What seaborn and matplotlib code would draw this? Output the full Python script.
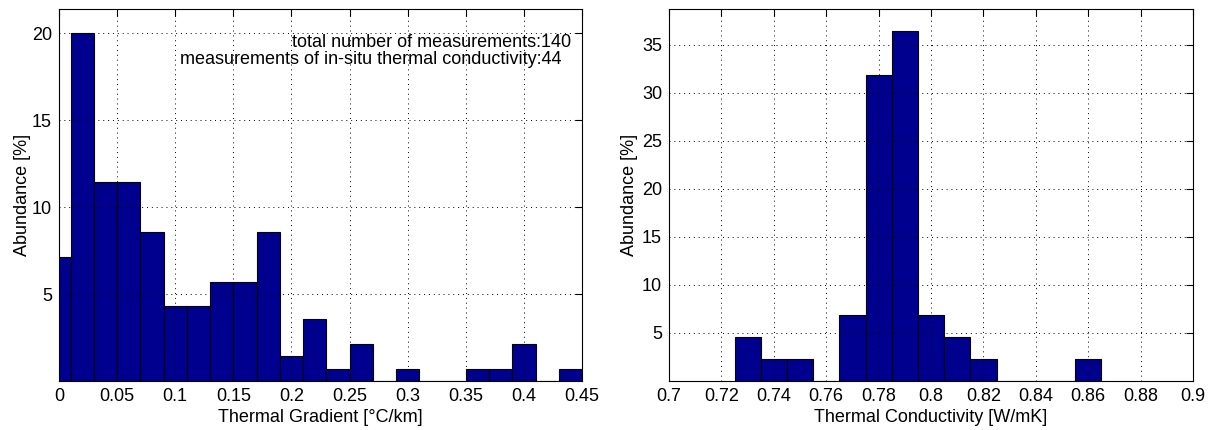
import numpy as np
import pandas as pd
import matplotlib
matplotlib.use("Agg")
import matplotlib.pyplot as plt
import seaborn as sns

# thermal gradient histogram (bin centres, % of 140 measurements)
grad_centers = [0.00, 0.02, 0.04, 0.06, 0.08, 0.10, 0.12, 0.14, 0.16, 0.18, 0.20, 0.22,
                0.24, 0.26, 0.28, 0.30, 0.32, 0.34, 0.36, 0.38, 0.40, 0.42, 0.44]
grad_pct = [7.14, 20.0, 11.43, 11.43, 8.57, 4.29, 4.29, 5.71, 5.71, 8.57, 1.43, 3.57,
            0.71, 2.14, 0.0, 0.71, 0.0, 0.0, 0.71, 0.71, 2.14, 0.0, 0.71]
grad_width = 0.02

# thermal conductivity histogram (bin centres, % of 44 measurements)
cond_centers = [0.73, 0.74, 0.75, 0.76, 0.77, 0.78, 0.79, 0.80, 0.81, 0.82, 0.83, 0.84, 0.85, 0.86]
cond_pct = [4.55, 2.27, 2.27, 0.0, 6.82, 31.82, 36.36, 6.82, 4.55, 2.27, 0.0, 0.0, 0.0, 2.27]
cond_width = 0.01

grad_xticks = [0, 0.05, 0.1, 0.15, 0.2, 0.25, 0.3, 0.35, 0.4, 0.45]
grad_yticks = [5, 10, 15, 20]
cond_xticks = [0.7, 0.72, 0.74, 0.76, 0.78, 0.8, 0.82, 0.84, 0.86, 0.88, 0.9]
cond_yticks = [5, 10, 15, 20, 25, 30, 35]

sns.set_style("white")
plt.rcParams["font.family"] = ["Liberation Sans", "DejaVu Sans"]
plt.rcParams["font.size"] = 13
plt.rcParams["text.color"] = "black"
plt.rcParams["axes.labelcolor"] = "black"
plt.rcParams["xtick.color"] = "black"
plt.rcParams["ytick.color"] = "black"

BAR = "#00008F"
FS = 13


def edges_from(centers, width):
    c = np.asarray(centers)
    return list(np.append(c - width / 2, c[-1] + width / 2))


def style_axis(ax, xticks, yticks, xlim, ylim):
    ax.set_xlim(*xlim)
    ax.set_ylim(*ylim)
    ax.set_xticks(xticks)
    ax.set_xticklabels([f"{t:g}" for t in xticks])
    ax.set_yticks(yticks)
    ax.grid(True, linestyle=(0, (1, 4)), color="black", linewidth=0.7)
    ax.set_axisbelow(False)
    ax.tick_params(direction="in", length=5, width=0.8, top=True, right=True,
                   labelsize=FS, pad=5)
    for s in ax.spines.values():
        s.set_visible(True)
        s.set_color("black")
        s.set_linewidth(0.8)


fig = plt.figure(figsize=(12.16, 4.30), dpi=100)
ax1 = fig.add_axes([59 / 1216, 1 - 381 / 430, 523 / 1216, 372 / 430])
ax2 = fig.add_axes([669 / 1216, 1 - 381 / 430, 524 / 1216, 372 / 430])

grad_df = pd.DataFrame({"x": grad_centers, "w": grad_pct})
sns.histplot(data=grad_df, x="x", weights="w", bins=edges_from(grad_centers, grad_width),
             color=BAR, edgecolor="black", linewidth=0.8, alpha=1, ax=ax1)
style_axis(ax1, grad_xticks, grad_yticks, (0, 0.45), (0, 21.4))
ax1.set_xlabel("Thermal Gradient [°C/km]", fontsize=FS, labelpad=3)
ax1.set_ylabel("Abundance [%]", fontsize=FS, labelpad=1)
ax1.text(0.441, 19.5, "total number of measurements:140", ha="right", va="center", fontsize=FS)
ax1.text(0.432, 18.5, "measurements of in-situ thermal conductivity:44", ha="right", va="center",
         fontsize=FS)

cond_df = pd.DataFrame({"x": cond_centers, "w": cond_pct})
sns.histplot(data=cond_df, x="x", weights="w", bins=edges_from(cond_centers, cond_width),
             color=BAR, edgecolor="black", linewidth=0.8, alpha=1, ax=ax2)
style_axis(ax2, cond_xticks, cond_yticks, (0.7, 0.9), (0, 38.7))
ax2.set_xlabel("Thermal Conductivity [W/mK]", fontsize=FS, labelpad=3)
ax2.set_ylabel("Abundance [%]", fontsize=FS, labelpad=3)

fig.savefig("out.png", dpi=100)
